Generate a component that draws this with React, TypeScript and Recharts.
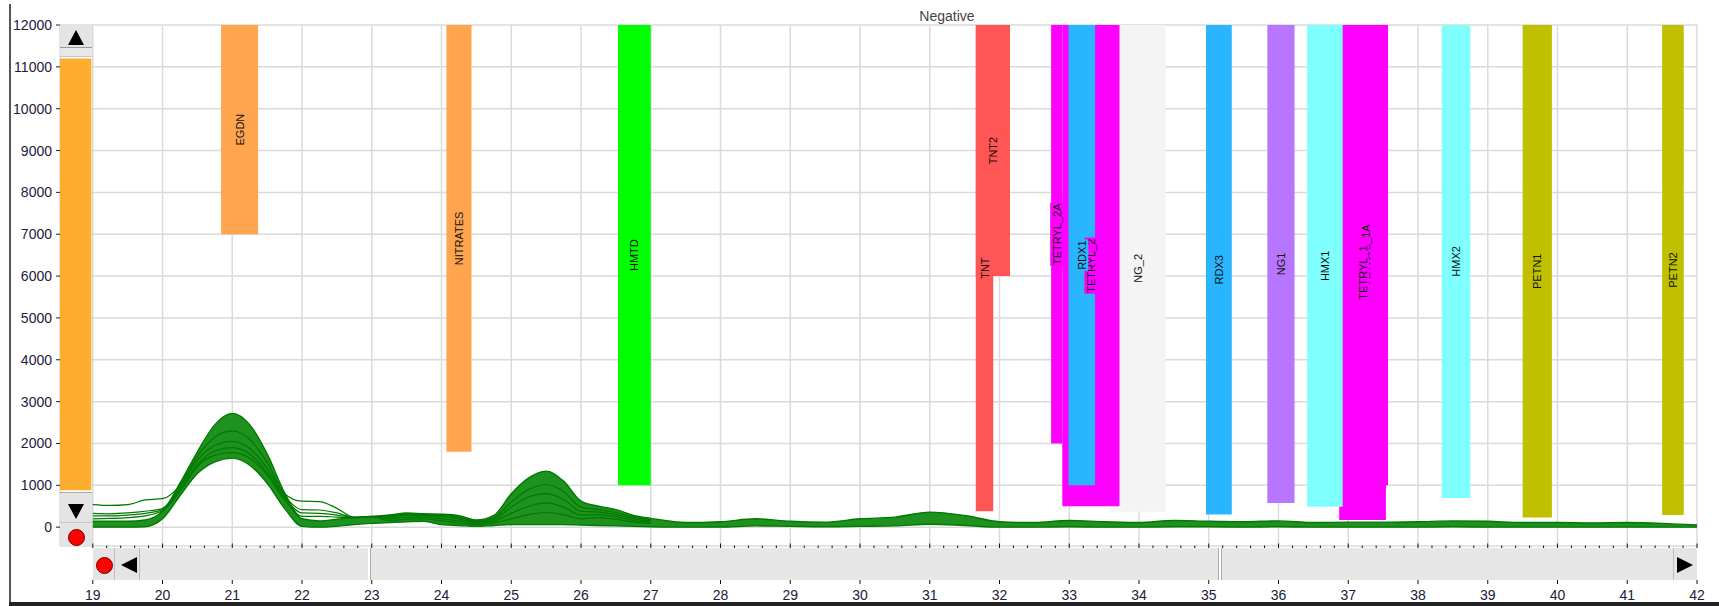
import React from "react";
import {
  ComposedChart,
  Area,
  Line,
  XAxis,
  YAxis,
  CartesianGrid,
  ReferenceArea,
} from "recharts";

const FONT = '"Liberation Sans", Arial, sans-serif';

// retention time grid of the overlaid traces
const rt = [
  19, 19.25, 19.5, 19.75, 20, 20.25, 20.5, 20.75, 21, 21.25, 21.5, 21.75, 22,
  22.25, 22.5, 22.75, 23, 23.25, 23.5, 23.75, 24, 24.25, 24.5, 24.75, 25, 25.25,
  25.5, 25.75, 26, 26.25, 26.5, 26.75, 27, 27.5, 28, 28.5, 29, 29.5, 30, 30.5,
  31, 31.5, 32, 32.5, 33, 33.5, 34, 34.5, 35, 35.5, 36, 36.5, 37, 37.5, 38,
  38.5, 39, 39.5, 40, 40.5, 41, 41.5, 42,
];

// lower / upper edge of the dense bundle of traces
const bandLow = [
  0, 0, 0, 10, 200, 750, 1280, 1560, 1650, 1480, 1050, 450, 20, 0, 20, 60, 90,
  110, 130, 140, 60, 40, 20, 40, 60, 60, 60, 60, 50, 40, 30, 20, 10, 0, 0, 30,
  20, 10, 20, 30, 70, 40, 0, 0, 10, 0, 0, 10, 10, 0, 10, 0, 0, 0, 0, 10, 0, 0,
  0, 0, 0, 0, 0,
];
const bandHigh = [
  140, 140, 140, 170, 380, 1050, 1800, 2450, 2720, 2450, 1750, 820, 200, 150,
  190, 230, 260, 290, 340, 320, 310, 275, 170, 280, 800, 1180, 1340, 1100, 620,
  500, 420, 280, 210, 110, 130, 200, 140, 120, 200, 240, 360, 280, 130, 110,
  160, 130, 110, 160, 140, 130, 150, 110, 120, 120, 130, 150, 140, 110, 110,
  100, 110, 90, 50,
];

// single traces that can be told apart from the bundle (19 .. 27 min)
const traceA = [540, 520, 540, 650, 680, 1000, 1700, 2150, 2300, 2100, 1550, 800, 620, 610, 450, 240, 250, 270, 320, 300, 280, 240, 140, 220, 600, 900, 1020, 850, 480, 420, 350, 240, 180];
const traceB = [330, 320, 340, 380, 450, 950, 1600, 1950, 2050, 1880, 1400, 750, 420, 410, 340, 235, 250, 240, 290, 280, 250, 200, 120, 180, 480, 720, 800, 660, 380, 360, 300, 200, 150];
const traceC = [270, 270, 290, 330, 420, 900, 1500, 1820, 1900, 1750, 1300, 700, 340, 330, 290, 230, 250, 200, 240, 240, 200, 150, 90, 140, 330, 500, 580, 480, 290, 300, 250, 160, 120];
const traceD = [200, 210, 230, 270, 400, 850, 1450, 1720, 1780, 1650, 1250, 650, 260, 260, 240, 225, 250, 160, 190, 200, 150, 100, 60, 100, 200, 300, 350, 300, 200, 230, 190, 120, 90];

// detection windows (drawn in this order)
const markerNames = ["", "EGDN", "NITRATES", "HMTD", "TNT", "TNT2", "NG_2", "TETRYL_2A", "TETRYL_2", "RDX1", "RDX3", "NG1", "TETRYL_1A", "TETRYL_1", "HMX1", "HMX2", "PETN1", "PETN2"];
const markerStart = [18.53, 20.84, 24.07, 26.53, 31.66, 31.66, 33.58, 32.74, 32.9, 32.99, 34.96, 35.84, 36.93, 36.87, 36.41, 38.34, 39.5, 41.5];
const markerEnd = [18.98, 21.37, 24.43, 27.0, 31.91, 32.15, 34.38, 32.9, 33.72, 33.37, 35.33, 36.23, 37.57, 37.54, 36.92, 38.75, 39.92, 41.81];
const markerLow = [880, 7000, 1800, 1000, 380, 6000, 370, 2000, 500, 1000, 300, 580, 1000, 170, 490, 700, 230, 290];
const markerHigh = [11200, 12000, 12000, 12000, 12000, 12000, 12000, 12000, 12000, 12000, 12000, 12000, 12000, 12000, 12000, 12000, 12000, 12000];
const markerColors = ["#FFAD30", "#FFA54F", "#FFA54F", "#00FF00", "#FF5555", "#FF5555", "#F4F4F4", "#FF00FF", "#FF00FF", "#29B6FF", "#29B6FF", "#B875FF", "#FF00FF", "#FF00FF", "#80FFFF", "#80FFFF", "#C0C000", "#C0C000"];

const yTicks = [0, 1000, 2000, 3000, 4000, 5000, 6000, 7000, 8000, 9000, 10000, 11000, 12000];
const xTicks = [19, 20, 21, 22, 23, 24, 25, 26, 27, 28, 29, 30, 31, 32, 33, 34, 35, 36, 37, 38, 39, 40, 41, 42];
const minorTicks = Array.from({ length: 116 }, (_, i) => Math.round((19 + i * 0.2) * 10) / 10);

const X_DOMAIN: [number, number] = [18.53, 42];

const rows = rt.map((x, i) => ({
  rt: x,
  band: [bandLow[i], bandHigh[i]],
  a: traceA[i] ?? null,
  b: traceB[i] ?? null,
  c: traceC[i] ?? null,
  d: traceD[i] ?? null,
}));

let measureCtx: CanvasRenderingContext2D | null = null;
function textWidth(text: string) {
  if (!measureCtx) measureCtx = document.createElement("canvas").getContext("2d");
  if (!measureCtx) return text.length * 6.5;
  measureCtx.font = `11px ${FONT}`;
  return measureCtx.measureText(text).width;
}

function MarkerLabel(props: any) {
  const { x, y, width, height, text, color } = props;
  if (!text) return null;
  const cx = x + width / 2;
  const cy = y + height / 2;
  const len = textWidth(text) + 2;
  return (
    <g>
      <rect x={cx - 6.5} y={cy - len / 2} width={13} height={len} fill={color} />
      <text
        x={cx}
        y={cy}
        transform={`rotate(-90 ${cx} ${cy})`}
        textAnchor="middle"
        dominantBaseline="central"
        fontSize={11}
        fontFamily={FONT}
        fill="#111"
      >
        {text}
      </text>
    </g>
  );
}

function MinorTick(props: any) {
  const { x, y, payload } = props;
  const v = payload.value;
  const major = Math.abs(v - Math.round(v)) < 1e-6;
  return <line x1={x} x2={x} y1={y + 2} y2={y + 2 - (major ? 4.5 : 2.5)} stroke="#111" strokeWidth={1} />;
}

const gray = "#E4E4E4";
const box = (left: number, top: number, width: number, height: number, extra: React.CSSProperties = {}): React.CSSProperties => ({
  position: "absolute",
  left,
  top,
  width,
  height,
  background: gray,
  boxSizing: "border-box",
  ...extra,
});

function Tri({ cx, cy, dir }: { cx: number; cy: number; dir: "up" | "down" | "left" | "right" }) {
  const s: React.CSSProperties = { position: "absolute", width: 0, height: 0 };
  if (dir === "up" || dir === "down") {
    Object.assign(s, {
      left: cx - 8.5,
      top: cy - 7.5,
      borderLeft: "8.5px solid transparent",
      borderRight: "8.5px solid transparent",
      [dir === "up" ? "borderBottom" : "borderTop"]: "15px solid #000",
    });
  } else {
    Object.assign(s, {
      left: cx - 8,
      top: cy - 8,
      borderTop: "8px solid transparent",
      borderBottom: "8px solid transparent",
      [dir === "left" ? "borderRight" : "borderLeft"]: "16px solid #000",
    });
  }
  return <div style={s} />;
}

function Dot({ cx, cy }: { cx: number; cy: number }) {
  return (
    <div
      style={{
        position: "absolute",
        left: cx - 8.5,
        top: cy - 8.5,
        width: 17,
        height: 17,
        borderRadius: "50%",
        background: "#FF0000",
        border: "1px solid #700",
        boxSizing: "border-box",
      }}
    />
  );
}

export default function App() {
  return (
    <div style={{ position: "absolute", left: 0, top: 0, width: 1719, height: 606, background: "#fff", overflow: "hidden", fontFamily: FONT }}>
      <ComposedChart width={1719} height={606} data={rows} margin={{ top: 25, right: 22, bottom: 0, left: 0 }}>
        <CartesianGrid xAxisId={1} stroke="#DADADA" strokeWidth={1.5} />
        <XAxis
          xAxisId={1}
          dataKey="rt"
          type="number"
          domain={X_DOMAIN}
          ticks={xTicks}
          interval={0}
          height={26}
          axisLine={false}
          tickSize={4}
          tickMargin={6}
          tickLine={{ stroke: "#111" }}
          tick={{ fontSize: 14, fill: "#20203c", fontFamily: FONT }}
          allowDataOverflow
        />
        <XAxis
          xAxisId={0}
          dataKey="rt"
          type="number"
          domain={X_DOMAIN}
          ticks={minorTicks}
          interval={0}
          height={34}
          axisLine={false}
          tickLine={false}
          tickSize={0}
          tickMargin={0}
          tick={<MinorTick />}
          allowDataOverflow
        />
        <YAxis
          type="number"
          domain={[-450, 12000]}
          ticks={yTicks}
          interval={0}
          width={60}
          axisLine={false}
          tickSize={4}
          tickMargin={4}
          tickLine={{ stroke: "#222" }}
          tick={{ fontSize: 14, fill: "#20203c", fontFamily: FONT }}
          allowDataOverflow
        />
        {markerNames.map((name, i) => (
          <ReferenceArea
            key={`bar-${i}`}
            x1={markerStart[i]}
            x2={markerEnd[i]}
            y1={markerLow[i]}
            y2={markerHigh[i]}
            fill={markerColors[i]}
            fillOpacity={1}
            stroke="none"
            ifOverflow="hidden"
          />
        ))}
        {markerNames.map((name, i) => (
          <ReferenceArea
            key={`lbl-${i}`}
            x1={markerStart[i]}
            x2={markerEnd[i]}
            y1={markerLow[i]}
            y2={markerHigh[i]}
            fill="none"
            stroke="none"
            ifOverflow="hidden"
            shape={<MarkerLabel text={name} color={markerColors[i]} />}
          />
        ))}
        <Area
          dataKey="band"
          type="monotone"
          stroke="#007A00"
          strokeWidth={1.4}
          fill="#1E911E"
          fillOpacity={1}
          dot={false}
          activeDot={false}
          isAnimationActive={false}
        />
        {["a", "b", "c", "d"].map((k) => (
          <Line
            key={k}
            dataKey={k}
            type="monotone"
            stroke="#007A00"
            strokeWidth={1.2}
            dot={false}
            activeDot={false}
            connectNulls={false}
            isAnimationActive={false}
          />
        ))}
      </ComposedChart>

      {/* title */}
      <div style={{ position: "absolute", left: 947, top: 8, transform: "translateX(-50%)", fontSize: 14, color: "#444" }}>Negative</div>

      {/* vertical scroller */}
      <div style={box(60, 25, 32, 23, { borderBottom: "1px solid #9C9C9C" })} />
      <Tri cx={76.5} cy={37} dir="up" />
      <div style={box(60, 48, 32, 9, { background: "#E8E8E8", borderBottom: "1px solid #C8C8C8" })} />
      <div style={box(60, 492, 32, 31, { borderTop: "1px solid #A8A8A8", borderBottom: "1px solid #C8C8C8" })} />
      <Tri cx={76.5} cy={511} dir="down" />
      <div style={box(60, 523, 32, 24)} />
      <Dot cx={76.5} cy={537} />

      {/* horizontal scroller */}
      <div style={box(93, 548, 1604, 32, { background: "#E6E6E6" })} />
      <div style={box(93, 548, 22, 32, { borderRight: "1px solid #BDBDBD" })} />
      <Dot cx={104.5} cy={565} />
      <div style={box(116, 548, 24, 32, { borderRight: "1px solid #BDBDBD" })} />
      <Tri cx={129} cy={565} dir="left" />
      <div style={{ position: "absolute", left: 368, top: 548, width: 2, height: 32, background: "#fff" }} />
      <div style={{ position: "absolute", left: 370, top: 548, width: 1, height: 32, background: "#ABABAB" }} />
      <div style={{ position: "absolute", left: 1218, top: 548, width: 1, height: 32, background: "#ABABAB" }} />
      <div style={{ position: "absolute", left: 1219, top: 548, width: 2, height: 32, background: "#fff" }} />
      <div style={{ position: "absolute", left: 1221, top: 548, width: 1, height: 32, background: "#ABABAB" }} />
      <div style={box(1673, 548, 24, 32, { borderLeft: "1px solid #BDBDBD" })} />
      <Tri cx={1685} cy={565} dir="right" />

      {/* window frame */}
      <div style={{ position: "absolute", left: 9, top: 4, width: 2, height: 602, background: "#555" }} />
      <div style={{ position: "absolute", left: 9, top: 602, width: 1710, height: 4, background: "#222" }} />
    </div>
  );
}
